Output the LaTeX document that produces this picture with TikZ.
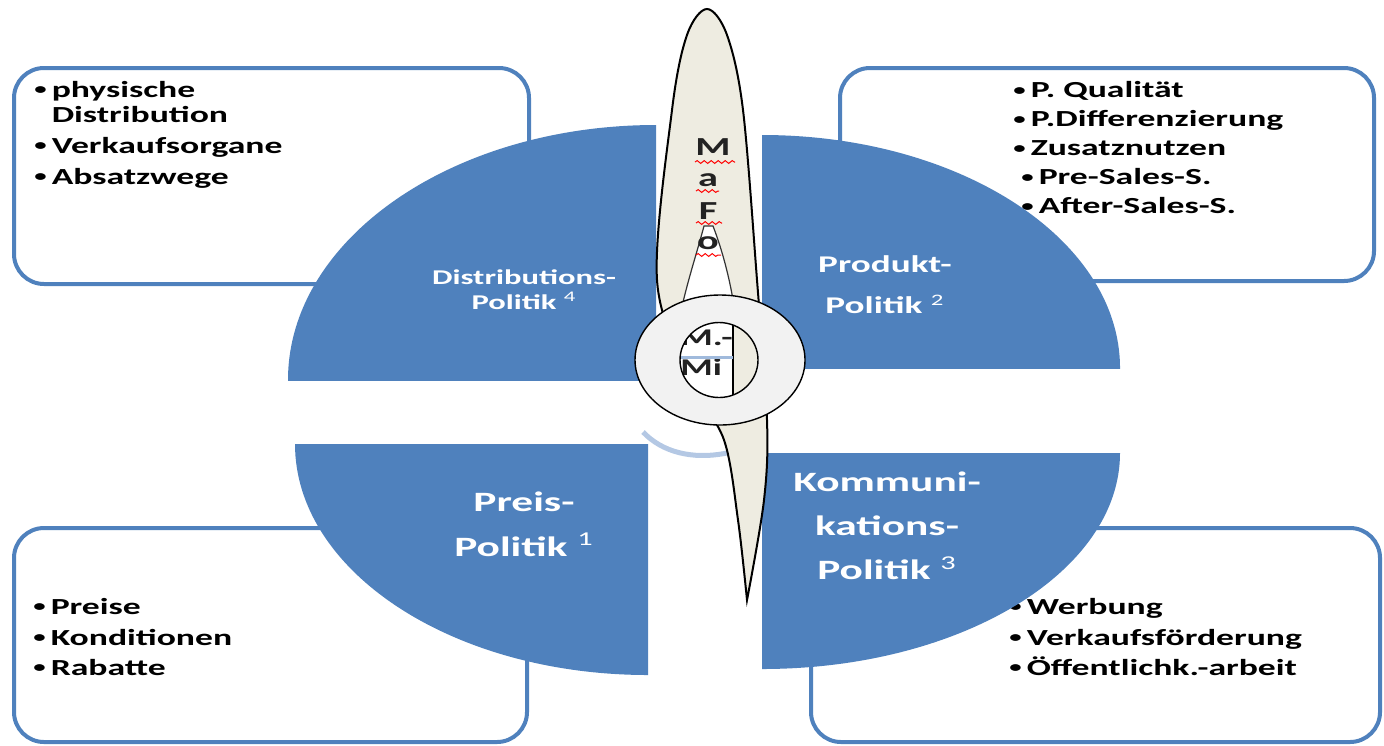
\documentclass[tikz,border=0pt]{standalone}
\usepackage{fontspec}
\setmainfont{Carlito}[FakeStretch=1.55]
\usetikzlibrary{decorations.pathmorphing}

\definecolor{mmblau}{HTML}{4F81BD}
\definecolor{nadelbeige}{HTML}{EEECE1}
\definecolor{ringgrau}{HTML}{F2F2F2}
\definecolor{bogenblau}{HTML}{B4C8E4}
\definecolor{schrift}{HTML}{222222}

\newcommand\pkt{\raisebox{0.12em}{\fontsize{8}{0}\selectfont •}\hspace{2.5pt}}

\tikzset{
  kasten/.style={draw=mmblau, line width=2pt, fill=white, rounded corners=15pt},
  liste/.style={anchor=west, align=left, inner sep=0pt, text=black},
  viertel/.style={fill=mmblau},
  politik/.style={align=center, inner sep=0pt, text=white},
  mafo/.style={inner sep=0pt, text=schrift, font=\bfseries\fontsize{13}{13}\selectfont},
  wellen/.style={draw=red, line width=0.5pt, decorate,
    decoration={snake, amplitude=0.7pt, segment length=3.5pt}},
}

\begin{document}
\begin{tikzpicture}[x=0.5pt, y=-0.5pt]
  \useasboundingbox (0,0) rectangle (1384,745);

  % Kaesten mit Stichpunkten
  \draw[kasten] (14,68) rectangle (529,284);
  \draw[kasten] (840,68) rectangle (1374,281);
  \draw[kasten] (14,528) rectangle (527,742);
  \draw[kasten] (811,528) rectangle (1380,742);

  \node[liste, font=\bfseries\fontsize{11.5}{12.5}\selectfont] (distliste) at (34,135)
    {\pkt physische\\\phantom{\pkt}Distribution\\[3pt]\pkt Verkaufsorgane\\[3pt]\pkt Absatzwege};
  \node[liste, font=\bfseries\fontsize{11.5}{14.5}\selectfont] (prodliste) at (1013,148)
    {\pkt P. Qualität\\\pkt P.Differenzierung\\\pkt Zusatznutzen\\\hspace*{4pt}\pkt Pre-Sales-S.\\\hspace*{4pt}\pkt After-Sales-S.};
  \node[liste, font=\bfseries\fontsize{11.5}{15.25}\selectfont] (preisliste) at (33,637)
    {\pkt Preise\\\pkt Konditionen\\\pkt Rabatte};
  \node[liste, font=\bfseries\fontsize{11.5}{15.25}\selectfont] (kommliste) at (1009,637)
    {\pkt Werbung\\\pkt Verkaufsförderung\\\pkt Öffentlichk.-arbeit};

  % Viertelkreise
  \begin{scope}
    \clip (288,125) rectangle (656,380);
    \fill[viertel] (656,380) ellipse [x radius=184pt, y radius=127.5pt];
  \end{scope}
  \begin{scope}
    \clip (762,135) rectangle (1120,368);
    \fill[viertel] (762,368) ellipse [x radius=179pt, y radius=116.5pt];
  \end{scope}
  \begin{scope}
    \clip (295,444) rectangle (648,675);
    \fill[viertel] (648,444) ellipse [x radius=176.5pt, y radius=115.5pt];
  \end{scope}
  \begin{scope}
    \clip (762,453) rectangle (1120,669);
    \fill[viertel] (762,453) ellipse [x radius=179pt, y radius=108pt];
  \end{scope}

  \node[politik, font=\bfseries\fontsize{10.5}{12.5}\selectfont] (distpol) at (524,290)
    {Distributions-\\Politik \textsuperscript{\mdseries 4}};
  \node[politik, font=\bfseries\fontsize{12}{20.5}\selectfont] (prodpol) at (885,285)
    {Produkt-\\Politik \textsuperscript{\mdseries 2}};
  \node[politik, font=\bfseries\fontsize{14}{22.5}\selectfont] (preispol) at (524,524)
    {Preis-\\Politik \textsuperscript{\mdseries 1}};
  \node[politik, font=\bfseries\fontsize{14}{22}\selectfont] (kommpol) at (887,526)
    {Kommuni-\\kations-\\Politik \textsuperscript{\mdseries 3}};

  % Bogen
  \draw[bogenblau, line width=2.5pt] (643,432) .. controls (662,452) and (692,460) .. (727,453);

  % Nadel MaFo
  \filldraw[fill=nadelbeige, draw=black, line width=1pt]
    plot[smooth, tension=0.55] coordinates {(747,600) (764,500) (767,420) (757,280)
      (743,110) (727,35) (707,9) (687,35) (672,110) (657,280) (690,380) (724,440) (738,520) (747,600)} -- cycle;
  \filldraw[fill=white, draw=black!80, line width=0.6pt]
    (704,226) .. controls (695,260) and (681,300) .. (676,340) -- (738,340)
    .. controls (735,300) and (726,260) .. (713,226) -- cycle;

  \node[mafo] (buchm) at (713,147) {M};
  \node[mafo] (bucha) at (708,180) {a};
  \node[mafo] (buchf) at (708,211) {F};
  \node[mafo] (bucho) at (708,243) {o};
  \draw[wellen] (695,162) -- (735,162);
  \draw[wellen] (696,191) -- (719,191);
  \draw[wellen] (696,223) -- (722,223);
  \draw[wellen] (696,255) -- (721,255);

  % Ring M.-Mix
  \filldraw[fill=ringgrau, draw=black, line width=0.7pt] (720,360) ellipse [x radius=42.5pt, y radius=32.5pt];
  \begin{scope}
    \clip (719,360) ellipse [x radius=19.5pt, y radius=18.75pt];
    \fill[white] (660,300) rectangle (733,420);
    \fill[nadelbeige] (733,300) rectangle (780,420);
    \draw[black, line width=0.6pt] (733,300) -- (733,420);
    \node[mafo, anchor=west, align=left, font=\bfseries\fontsize{12}{15}\selectfont] (mmix) at (680,353)
      {M.-\\Mi};
    \draw[bogenblau!80!mmblau, line width=1.5pt] (678,357) -- (733,357);
  \end{scope}
  \draw[black, line width=0.7pt] (719,360) ellipse [x radius=19.5pt, y radius=18.75pt];
\end{tikzpicture}
\end{document}
